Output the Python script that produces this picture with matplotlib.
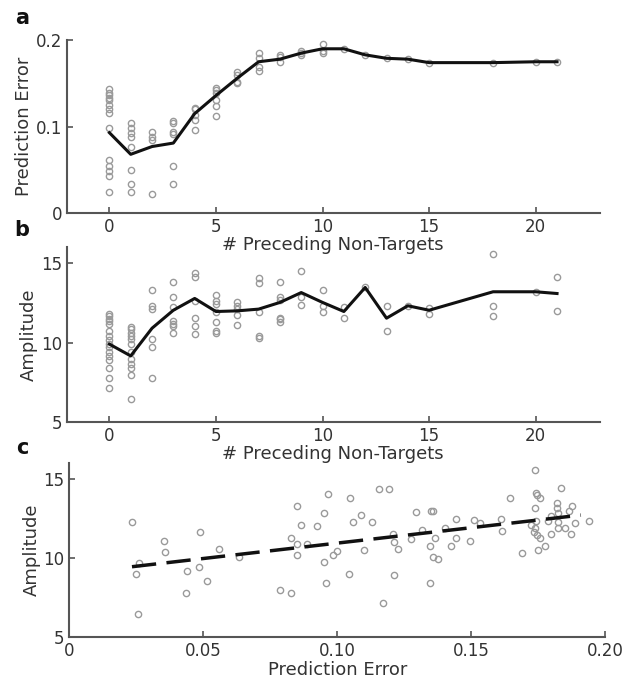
import numpy as np
import matplotlib
matplotlib.use("Agg")
import matplotlib.pyplot as plt

# ---- data ----
# panel a: prediction error vs # preceding non-targets (individual points + mean line)
pe_x = [0]*14 + [1]*8 + [2]*4 + [3]*6 + [4]*5 + [5]*6 + [6]*4 + [7]*4 + [8]*3 + [9]*3 + [10]*3 \
    + [11, 12, 13, 14, 15, 18, 20, 21]
pe_y = [0.143, 0.139, 0.136, 0.133, 0.131, 0.125, 0.120, 0.116, 0.099, 0.062, 0.054, 0.049, 0.043, 0.024,
        0.104, 0.098, 0.093, 0.088, 0.077, 0.050, 0.034, 0.024,
        0.094, 0.088, 0.084, 0.022,
        0.106, 0.104, 0.094, 0.091, 0.055, 0.034,
        0.122, 0.120, 0.113, 0.108, 0.096,
        0.145, 0.142, 0.139, 0.131, 0.124, 0.112,
        0.163, 0.160, 0.152, 0.150,
        0.185, 0.179, 0.169, 0.164,
        0.183, 0.181, 0.175,
        0.188, 0.185, 0.183,
        0.195, 0.188, 0.185,
        0.190, 0.183, 0.179, 0.178, 0.174, 0.174, 0.175, 0.175]
pe_mean_x = [0, 1, 2, 3, 4, 5, 6, 7, 8, 9, 10, 11, 12, 13, 14, 15, 18, 20, 21]
pe_mean_y = [0.093, 0.068, 0.077, 0.081, 0.115, 0.136, 0.156, 0.175, 0.178, 0.185, 0.190,
             0.190, 0.183, 0.179, 0.178, 0.174, 0.174, 0.175, 0.175]

# panel b: amplitude vs # preceding non-targets
amp_x = [0]*16 + [1]*12 + [2]*6 + [3]*7 + [4]*6 + [5]*7 + [6]*5 + [7]*5 + [8]*6 + [9]*3 \
    + [10]*3 + [11]*2 + [12] + [13]*2 + [14] + [15]*2 + [18]*3 + [20] + [21]*2
amp_y = [11.82, 11.68, 11.51, 11.36, 11.15, 10.73, 10.42, 10.15, 9.90, 9.69, 9.43, 9.16, 8.89, 8.43, 7.80, 7.13,
         10.99, 10.84, 10.63, 10.42, 10.21, 9.90, 9.43, 8.95, 8.68, 8.43, 7.97, 6.44,
         13.29, 12.31, 12.10, 10.21, 9.73, 7.76,
         13.82, 12.87, 12.24, 11.36, 11.19, 11.05, 10.57,
         14.40, 14.13, 12.62, 11.53, 11.05, 10.52,
         13.00, 12.62, 12.41, 11.95, 11.26, 10.73, 10.59,
         12.52, 12.31, 12.10, 11.74, 11.09,
         14.05, 13.77, 11.95, 10.42, 10.27,
         13.82, 12.87, 12.68, 11.57, 11.47, 11.32,
         14.47, 12.87, 12.35,
         13.29, 12.31, 11.89,
         12.24, 11.57,
         13.50,
         12.31, 10.73,
         12.31,
         12.14, 11.78,
         15.56, 12.31, 11.64,
         13.19,
         14.09, 11.99]
amp_mean_x = [0, 1, 2, 3, 4, 5, 6, 7, 8, 9, 10, 11, 12, 13, 14, 15, 18, 20, 21]
amp_mean_y = [9.90, 9.16, 10.90, 12.03, 12.77, 11.95, 11.99, 12.10, 12.52, 13.14, 12.52,
              11.95, 13.46, 11.53, 12.31, 12.03, 13.19, 13.19, 13.08]

# panel c: amplitude vs prediction error
sc_pe = [0.0234, 0.0259, 0.0249, 0.0256, 0.0352, 0.0356, 0.0439, 0.0437, 0.0489, 0.0485, 0.0514,
         0.0560, 0.0632, 0.0787, 0.0828, 0.0827, 0.0849, 0.0849, 0.0849, 0.0866, 0.0887, 0.0924,
         0.0951, 0.0964, 0.0949, 0.0957, 0.0984, 0.0999,
         0.1049, 0.1042, 0.1058, 0.1090, 0.1101, 0.1129, 0.1154, 0.1192, 0.1170, 0.1207, 0.1213,
         0.1226, 0.1213, 0.1275, 0.1294, 0.1316, 0.1351, 0.1359, 0.1347, 0.1366, 0.1357, 0.1376,
         0.1347, 0.1403, 0.1424, 0.1443, 0.1443, 0.1494,
         0.1509, 0.1531, 0.1646, 0.1611, 0.1614, 0.1690, 0.1739, 0.1743, 0.1747, 0.1757, 0.1739,
         0.1723, 0.1743, 0.1739, 0.1735, 0.1745, 0.1755, 0.1776, 0.1749, 0.1785, 0.1797, 0.1799,
         0.1820, 0.1820, 0.1822, 0.1822, 0.1822, 0.1835, 0.1851, 0.1863, 0.1875, 0.1872, 0.1888,
         0.1938]
sc_amp = [12.28, 9.70, 8.97, 6.46, 11.07, 10.38, 9.18, 7.78, 11.64, 9.45, 8.55,
          10.55, 10.08, 7.97, 7.78, 11.28, 13.27, 10.92, 10.17, 12.08, 10.92, 12.01,
          12.85, 14.07, 9.75, 8.41, 10.17, 10.44,
          13.79, 9.01, 12.28, 12.75, 10.50, 12.28, 14.36, 14.36, 7.13, 11.53, 11.01,
          10.55, 8.91, 11.18, 12.91, 11.80, 12.96, 12.96, 10.75, 11.28, 10.08, 9.96,
          8.45, 11.91, 10.75, 12.50, 11.28, 11.07,
          12.39, 12.22, 13.79, 12.50, 11.74, 10.30, 15.58, 14.11, 14.00, 13.79, 13.16,
          12.12, 12.33, 11.91, 11.64, 11.45, 11.28, 10.75, 10.50, 12.33, 12.69, 11.55,
          13.48, 13.16, 12.85, 12.28, 11.91, 14.42, 11.91, 12.96, 13.31, 11.55, 12.22,
          12.37]
fit_x = [0.0234, 0.1909]
fit_y = [9.45, 12.72]

nt_ticks = [0, 5, 10, 15, 20]

# ---- style ----
spine_col = '#555555'
text_col = '#333333'
pt_col = '#9a9a9a'
plt.rcParams['font.family'] = ['DejaVu Sans']


def style_axes(ax):
    ax.patch.set_visible(False)
    for s in ['top', 'right']:
        ax.spines[s].set_visible(False)
    for s in ['left', 'bottom']:
        ax.spines[s].set_color(spine_col)
        ax.spines[s].set_linewidth(1.5)
    ax.tick_params(direction='in', length=4, width=1.2, color=spine_col,
                   labelcolor=text_col, labelsize=12)


def scatter(ax, x, y):
    ax.plot(x, y, 'o', ls='none', mfc='none', mec=pt_col, mew=1.0, ms=4.5, zorder=2)


fig = plt.figure(figsize=(6.24, 6.92), dpi=100)

# panel a
ax_a = fig.add_axes([0.107, 0.692, 0.854, 0.250])
scatter(ax_a, pe_x, pe_y)
ax_a.plot(pe_mean_x, pe_mean_y, color='#111111', lw=2.2, zorder=3)
ax_a.set_xlim(-2, 23)
ax_a.set_ylim(0, 0.2)
ax_a.set_xticks(nt_ticks)
ax_a.set_yticks([0, 0.1, 0.2])
ax_a.set_yticklabels(['0', '0.1', '0.2'])
ax_a.set_xlabel('# Preceding Non-Targets', color=text_col, fontsize=13, labelpad=0)
ax_a.set_ylabel('Prediction Error', color=text_col, fontsize=13, labelpad=2)
style_axes(ax_a)

# panel b
ax_b = fig.add_axes([0.107, 0.390, 0.854, 0.253])
scatter(ax_b, amp_x, amp_y)
ax_b.plot(amp_mean_x, amp_mean_y, color='#111111', lw=2.2, zorder=3)
ax_b.set_xlim(-2, 23)
ax_b.set_ylim(5, 16)
ax_b.set_xticks(nt_ticks)
ax_b.set_yticks([5, 10, 15])
ax_b.set_xlabel('# Preceding Non-Targets', color=text_col, fontsize=13, labelpad=0)
ax_b.set_ylabel('Amplitude', color=text_col, fontsize=13, labelpad=2)
style_axes(ax_b)

# panel c
ax_c = fig.add_axes([0.111, 0.0795, 0.859, 0.251])
scatter(ax_c, sc_pe, sc_amp)
ax_c.plot(fit_x, fit_y, color='#111111', lw=2.5, dashes=(7, 3), zorder=3)
ax_c.set_xlim(0, 0.2)
ax_c.set_ylim(5, 16)
ax_c.set_xticks([0, 0.05, 0.10, 0.15, 0.20])
ax_c.set_xticklabels(['0', '0.05', '0.10', '0.15', '0.20'])
ax_c.set_yticks([5, 10, 15])
ax_c.set_xlabel('Prediction Error', color=text_col, fontsize=13, labelpad=1)
ax_c.set_ylabel('Amplitude', color=text_col, fontsize=13, labelpad=2)
style_axes(ax_c)

for lab, yy in [('a', 18), ('b', 230), ('c', 448)]:
    fig.text(22 / 624, 1 - yy / 692, lab, fontsize=15, fontweight='bold',
             ha='center', va='center', color='#111111')

fig.savefig('out.png', dpi=100)
